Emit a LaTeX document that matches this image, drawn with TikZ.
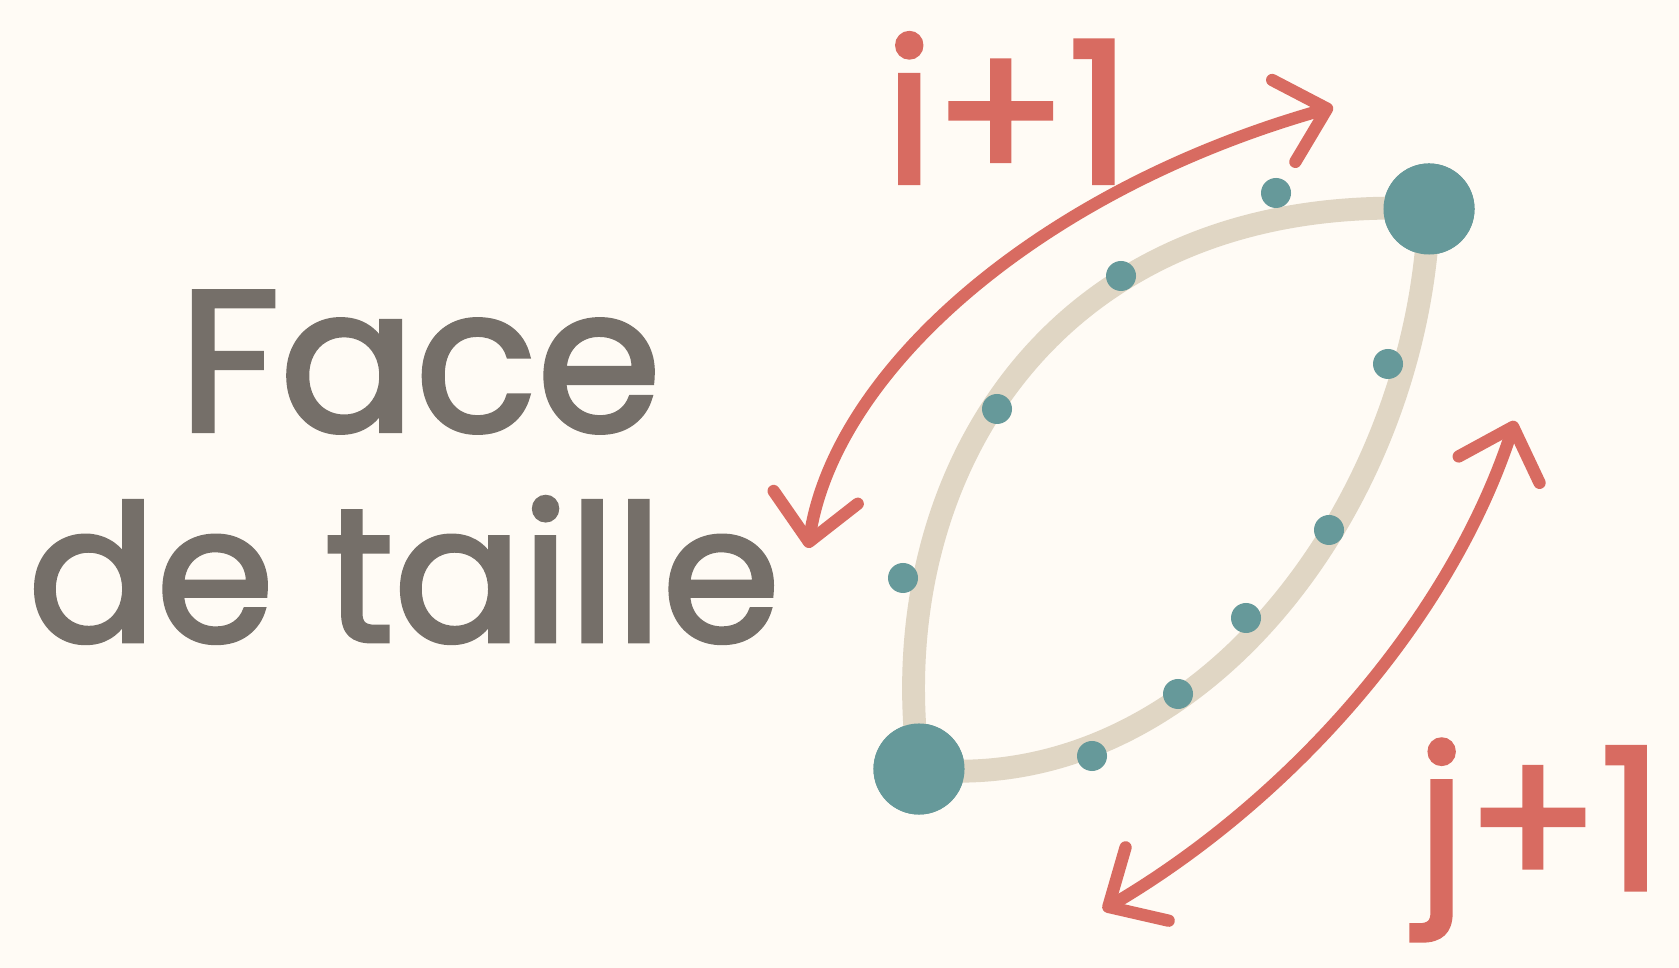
\documentclass[tikz,border=0pt]{standalone}
\usepackage{fontspec}
\setmainfont{Poppins}
\newfontfamily\handfont{Poppins}[FakeBold=2.2]
\usetikzlibrary{arrows.meta,calc}
\definecolor{paper}{HTML}{FFFBF5}
\definecolor{redc}{HTML}{D86B61}
\definecolor{tealc}{HTML}{66999A}
\definecolor{sand}{HTML}{E0D6C4}
\definecolor{ink}{HTML}{756F69}
\tikzset{bigdot/.style={circle,fill=tealc,minimum size=9.1mm,inner sep=0pt},
  smalldot/.style={circle,fill=tealc,minimum size=3mm,inner sep=0pt},
  ring/.style={draw=sand,line width=6.5pt},
  arr/.style={draw=redc,line width=3.5pt,line cap=round,
    >={Straight Barb[length=4.5mm,width=8.5mm,round]},<->},
  lab/.style={text=redc,inner sep=0pt,font=\fontsize{56}{56}\handfont},
  words/.style={text=ink,inner sep=0pt,font=\fontsize{54}{54}\handfont}}
\begin{document}
\begin{tikzpicture}[x=0.01cm,y=-0.01cm]
\fill[paper] (0,0) rectangle (1679,968);
\useasboundingbox (0,0) rectangle (1679,968);
% the face loop
\node[bigdot] (tr) at (1429,209) {};
\node[bigdot] (bl) at (919,769) {};
\draw[ring] (tr.center) .. controls (1050,190) and (880,480) .. (bl.center)
 .. controls (1200,800) and (1420,500) .. (tr.center);
\node[bigdot] at (tr) {};
\node[bigdot] at (bl) {};
\foreach \x/\y [count=\k] in {1276/193,1121/276,997/409,903/578,1388/364,
 1329/530,1246/618,1178/694,1092/756}
 \node[smalldot] (d\k) at (\x,\y) {};
% arrows
\coordinate (ia) at (808,548);
\coordinate (ib) at (1333,107);
\coordinate (ja) at (1515,421);
\coordinate (jb) at (1103,910);
\draw[arr] (ia) .. controls (835,370) and (1040,190) .. (ib);
\draw[arr] (ja) .. controls (1450,620) and (1290,800) .. (jb);
\node[lab] (li) at (1008,108) {i+1};
\node[lab] (lj) at (1540,840) {j+1};
\node[words,font=\fontsize{57}{57}\handfont] (face) at (420,362) {Face};
\node[words] (taille) at (404,570) {de taille};
\end{tikzpicture}
\end{document}
